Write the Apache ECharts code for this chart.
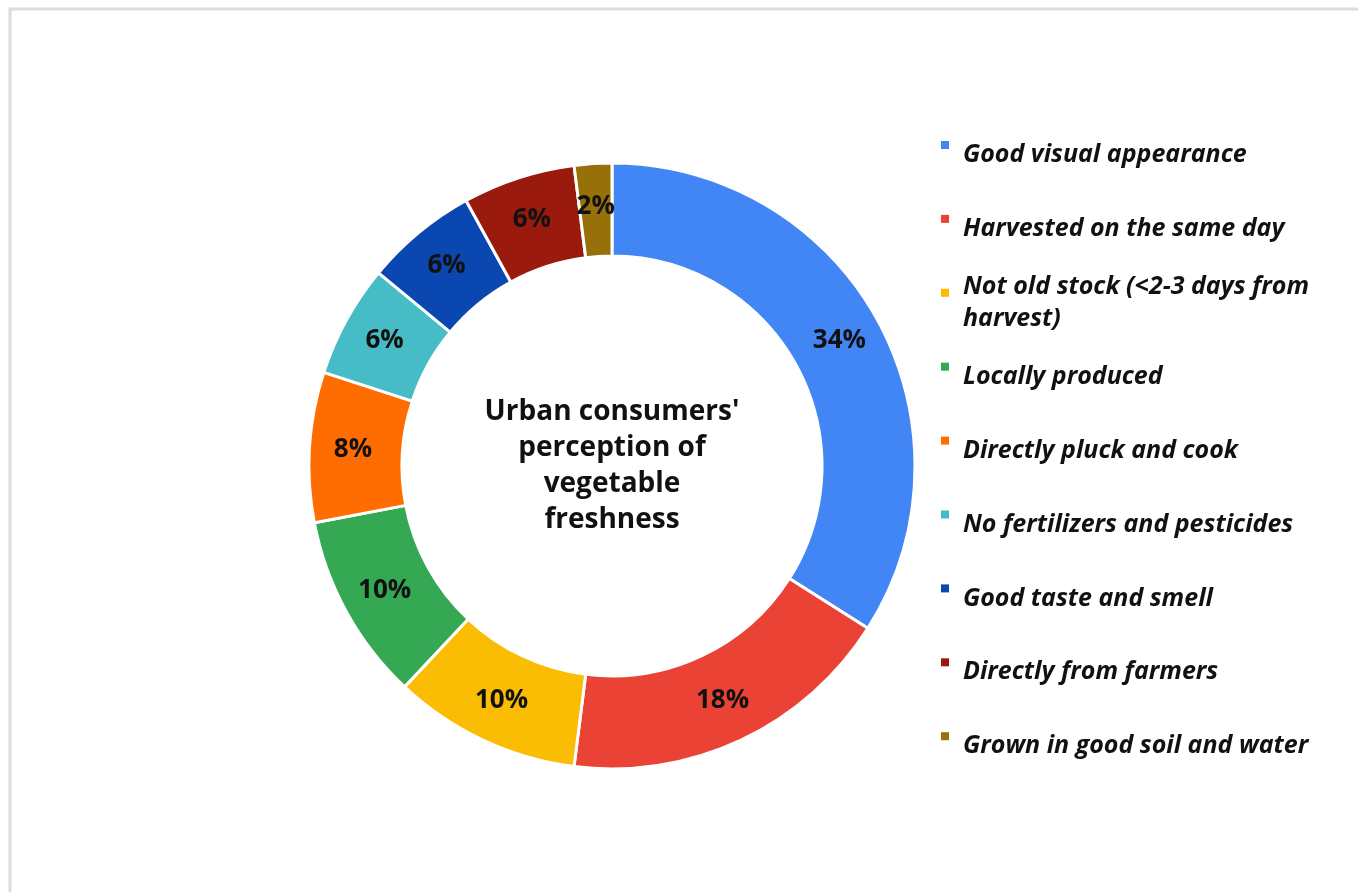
<!DOCTYPE html>
<html>
<head>
<meta charset="utf-8">
<script src="https://cdn.jsdelivr.net/npm/echarts@6/dist/echarts.min.js"></script>
<style>html,body{margin:0;padding:0;background:#fff}#c{width:1358px;height:892px}</style>
</head>
<body>
<div id="c"></div>
<script>
const categories = [
  "Good visual appearance",
  "Harvested on the same day",
  "Not old stock (<2-3 days from harvest)",
  "Locally produced",
  "Directly pluck and cook",
  "No fertilizers and pesticides",
  "Good taste and smell",
  "Directly from farmers",
  "Grown in good soil and water"
];
const values = [34, 18, 10, 10, 8, 6, 6, 6, 2];
const colors = ["#4285F4", "#EA4335", "#FBBC04", "#34A853", "#FF6D01", "#46BDC6", "#0B47B0", "#9A1A0E", "#97700A"];
const centerTitle = "Urban consumers'\nperception of\nvegetable\nfreshness";

const font = "Open Sans";
const wrapLines = n => n === "Not old stock (<2-3 days from harvest)" ? ["Not old stock (<2-3 days from", "harvest)"] : [n];

const legends = categories.map((name, i) => {
  const lines = wrapLines(name).length;
  const boxH = 20 + lines * 32;
  const iconY = 145 + i * 73.9;
  return {
    orient: 'vertical',
    left: 941,
    top: iconY - boxH / 2,
    padding: 0,
    data: [name],
    icon: 'rect',
    itemWidth: 8,
    itemHeight: 8,
    itemStyle: {borderWidth: 0},
    selectedMode: false,
    formatter: n => '{s|}\n' + wrapLines(n).map(l => '{t|' + l + '}').join('\n'),
    textStyle: {
      rich: {
        s: {height: 20, lineHeight: 20, fontSize: 1},
        t: {
          fontFamily: font,
          fontStyle: 'italic',
          fontWeight: 'bold',
          fontSize: 25,
          lineHeight: 32,
          height: 32,
          color: '#111',
          padding: [0, 0, 0, 9]
        }
      }
    }
  };
});

const chart = echarts.init(document.getElementById('c'), null, {renderer: 'canvas'});
chart.setOption({
  backgroundColor: '#fff',
  animation: false,
  color: colors,
  legend: legends,
  graphic: [
    {type: 'rect', shape: {x: 10, y: 9, width: 1400, height: 950}, style: {fill: 'none', stroke: '#dcdcdc', lineWidth: 3}, silent: true},
    {type: 'text', x: 612, y: 466, style: {text: centerTitle, align: 'center', verticalAlign: 'middle', fontFamily: font, fontWeight: 'bold', fontSize: 28, lineHeight: 36, fill: '#111'}}
  ],
  series: [{
    type: 'pie',
    center: [612, 466],
    radius: [210, 303],
    startAngle: 90,
    clockwise: true,
    avoidLabelOverlap: false,
    itemStyle: {borderColor: '#fff', borderWidth: 3},
    label: {
      show: true,
      position: 'inside',
      formatter: '{c}%',
      fontFamily: font,
      fontWeight: 'bold',
      fontSize: 26,
      color: '#111'
    },
    labelLine: {show: false},
    emphasis: {disabled: true},
    data: categories.map((n, i) => ({name: n, value: values[i]}))
  }]
});
</script>
</body>
</html>
